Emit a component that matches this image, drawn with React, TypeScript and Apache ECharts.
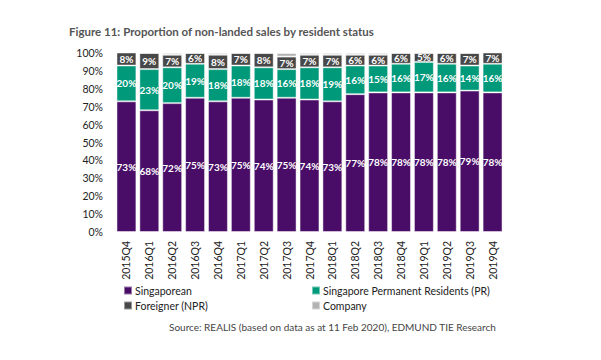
import React, { useEffect, useRef } from "react";
import * as echarts from "echarts";

const categories = ["2015Q4","2016Q1","2016Q2","2016Q3","2016Q4","2017Q1","2017Q2","2017Q3","2017Q4","2018Q1","2018Q2","2018Q3","2018Q4","2019Q1","2019Q2","2019Q3","2019Q4"];
const singaporean = [73,68,72,75,73,75,74,75,74,73,77,78,78,78,78,79,78];
const pr = [20,23,20,19,18,18,18,16,18,19,16,15,16,17,16,14,16];
const foreigner = [8,9,7,6,8,7,8,7,7,7,6,6,6,5,6,7,7];
const company = [0,0,1,0,1,0,0,2,1,1,1,1,0,0,0,0,0];
const yTicks = [0,10,20,30,40,50,60,70,80,90,100];

const FONT = "Lato";

export default function App() {
  const ref = useRef<HTMLDivElement>(null);
  useEffect(() => {
    const chart = echarts.init(ref.current!, null, { renderer: "svg" });
    const label = (show: boolean) => ({
      show,
      position: "inside" as const,
      color: "#ffffff",
      fontFamily: FONT,
      fontWeight: "bold" as const,
      fontSize: 10,
      formatter: (p: any) => p.value + "%",
    });
    const border = { borderColor: "rgba(255,255,255,0.45)", borderWidth: 1 };
    const legendText = { fontFamily: FONT, fontSize: 10.5, color: "#222222", padding: [0, 0, 0, -2] };
    chart.setOption({
      animation: false,
      textStyle: { fontFamily: FONT },
      title: {
        text: "Figure 11: Proportion of non-landed sales by resident status",
        left: 64,
        top: 20,
        textStyle: { fontFamily: FONT, fontSize: 11.5, fontWeight: "bold", color: "#555555" },
      },
      grid: { left: 115, right: 97, top: 53, bottom: 128, containLabel: false },
      xAxis: {
        type: "category",
        data: categories,
        axisLine: { show: false },
        axisTick: { show: false },
        axisLabel: { rotate: 90, fontFamily: FONT, fontSize: 10.5, color: "#222222", margin: 9 },
      },
      yAxis: {
        type: "value",
        min: 0,
        max: 100,
        interval: 10,
        splitLine: { show: false },
        axisLine: { show: false },
        axisTick: { show: false },
        axisLabel: {
          fontFamily: FONT,
          fontSize: 10.5,
          color: "#222222",
          margin: 12,
          formatter: (v: number) => (yTicks.includes(v) ? v + "%" : ""),
        },
      },
      legend: [
        {
          orient: "vertical",
          left: 118,
          top: 280,
          itemWidth: 8,
          itemHeight: 8,
          itemGap: 4,
          icon: "rect",
          textStyle: legendText,
          data: ["Singaporean", "Foreigner (NPR)"],
        },
        {
          orient: "vertical",
          left: 306,
          top: 280,
          itemWidth: 8,
          itemHeight: 8,
          itemGap: 4,
          icon: "rect",
          textStyle: legendText,
          data: ["Singapore Permanent Residents (PR)", "Company"],
        },
      ],
      graphic: [
        {
          type: "text",
          left: 169,
          top: 322,
          style: {
            text: "Source: REALIS (based on data as at 11 Feb 2020), EDMUND TIE Research",
            fontFamily: FONT,
            fontSize: 10,
            fill: "#444444",
          },
        },
      ],
      series: [
        {
          name: "Singaporean",
          type: "bar",
          stack: "s",
          data: singaporean,
          barCategoryGap: "13%",
          itemStyle: { color: "#4a0d67", ...border },
          label: label(true),
        },
        {
          name: "Singapore Permanent Residents (PR)",
          type: "bar",
          stack: "s",
          data: pr,
          itemStyle: { color: "#00997a", ...border },
          label: label(true),
        },
        {
          name: "Foreigner (NPR)",
          type: "bar",
          stack: "s",
          data: foreigner,
          itemStyle: { color: "#484848", ...border },
          label: label(true),
        },
        {
          name: "Company",
          type: "bar",
          stack: "s",
          data: company,
          itemStyle: { color: "#b3b3b3", ...border },
          label: label(false),
        },
      ],
    });
    return () => chart.dispose();
  }, []);
  return <div ref={ref} style={{ width: 601, height: 360, position: "absolute", left: 0, top: 0 }} />;
}
